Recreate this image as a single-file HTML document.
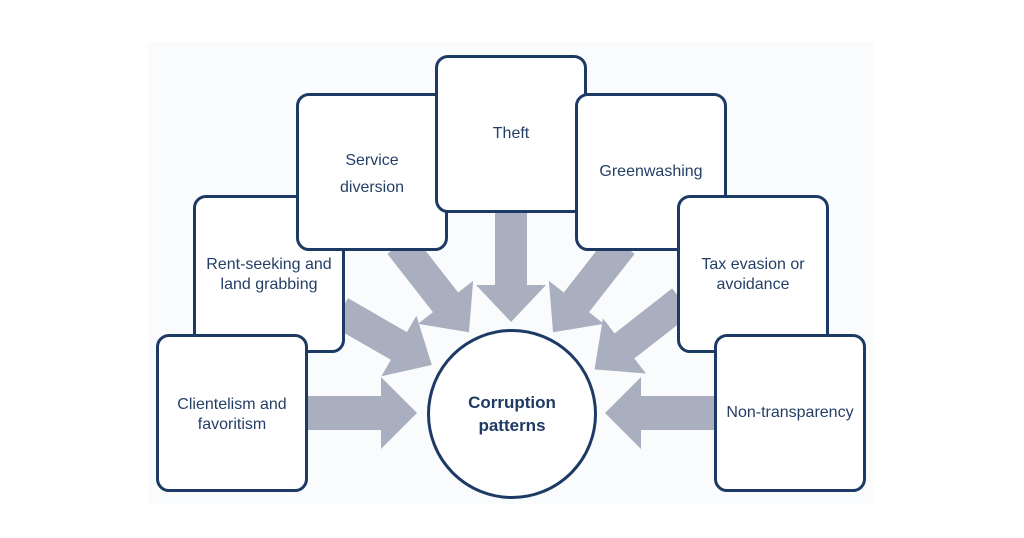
<!DOCTYPE html>
<html><head><meta charset="utf-8"><style>
body{margin:0;width:1024px;height:538px;background:#fff;overflow:hidden;position:relative;font-family:"Liberation Sans",sans-serif;}
.bg{position:absolute;left:148px;top:42px;width:726px;height:462px;background:#fafbfd;}
.b{position:absolute;width:146px;height:152px;border:3px solid #1c3a64;border-radius:13px;background:#fff;box-sizing:content-box;}
.t{position:absolute;left:-4px;right:-4px;text-align:center;color:#243f66;font-size:16px;line-height:20px;}
svg{position:absolute;left:0;top:0;}
</style></head><body>
<div class="bg"></div>
<svg width="1024" height="538">
<g fill="#a9afbf">
<g transform="translate(308,413)"><polygon points="0,-17 73,-17 73,-36 109,0 73,36 73,17 0,17"/></g>
<g transform="translate(714,413) rotate(180)"><polygon points="0,-17 73,-17 73,-36 109,0 73,36 73,17 0,17"/></g>
<g transform="translate(340,312) rotate(30)"><polygon points="0,-16 68,-16 68,-35 106,0 68,35 68,16 0,16"/></g>
<g transform="translate(400,244) rotate(52)"><polygon points="0,-16 74,-16 74,-35 112,0 74,35 74,16 0,16"/></g>
<g transform="translate(511,205) rotate(90)"><polygon points="0,-16 80,-16 80,-35 117,0 80,35 80,16 0,16"/></g>
<g transform="translate(622,244) rotate(128)"><polygon points="0,-16 74,-16 74,-35 112,0 74,35 74,16 0,16"/></g>
<g transform="translate(682,301) rotate(142)"><polygon points="0,-16 73,-16 73,-35 111,0 73,35 73,16 0,16"/></g>
</g>
</svg>
<div class="b" style="left:193px;top:195px;"><div class="t" style="top:57px;">Rent-seeking and<br>land grabbing</div></div>
<div class="b" style="left:156px;top:334px;"><div class="t" style="top:58px;">Clientelism and<br>favoritism</div></div>
<div class="b" style="left:296px;top:93px;"><div class="t" style="top:51px;line-height:27px;">Service<br>diversion</div></div>
<div class="b" style="left:435px;top:55px;"><div class="t" style="top:66px;">Theft</div></div>
<div class="b" style="left:575px;top:93px;"><div class="t" style="top:66px;">Greenwashing</div></div>
<div class="b" style="left:677px;top:195px;"><div class="t" style="top:57px;">Tax evasion or<br>avoidance</div></div>
<div class="b" style="left:714px;top:334px;"><div class="t" style="top:66px;">Non-transparency</div></div>
<div style="position:absolute;left:427px;top:329px;width:164px;height:164px;border:3px solid #1c3a64;border-radius:50%;background:#fff;">
<div class="t" style="top:59px;font-weight:bold;font-size:17px;line-height:23px;color:#1f3a63;">Corruption<br>patterns</div></div>
</body></html>
